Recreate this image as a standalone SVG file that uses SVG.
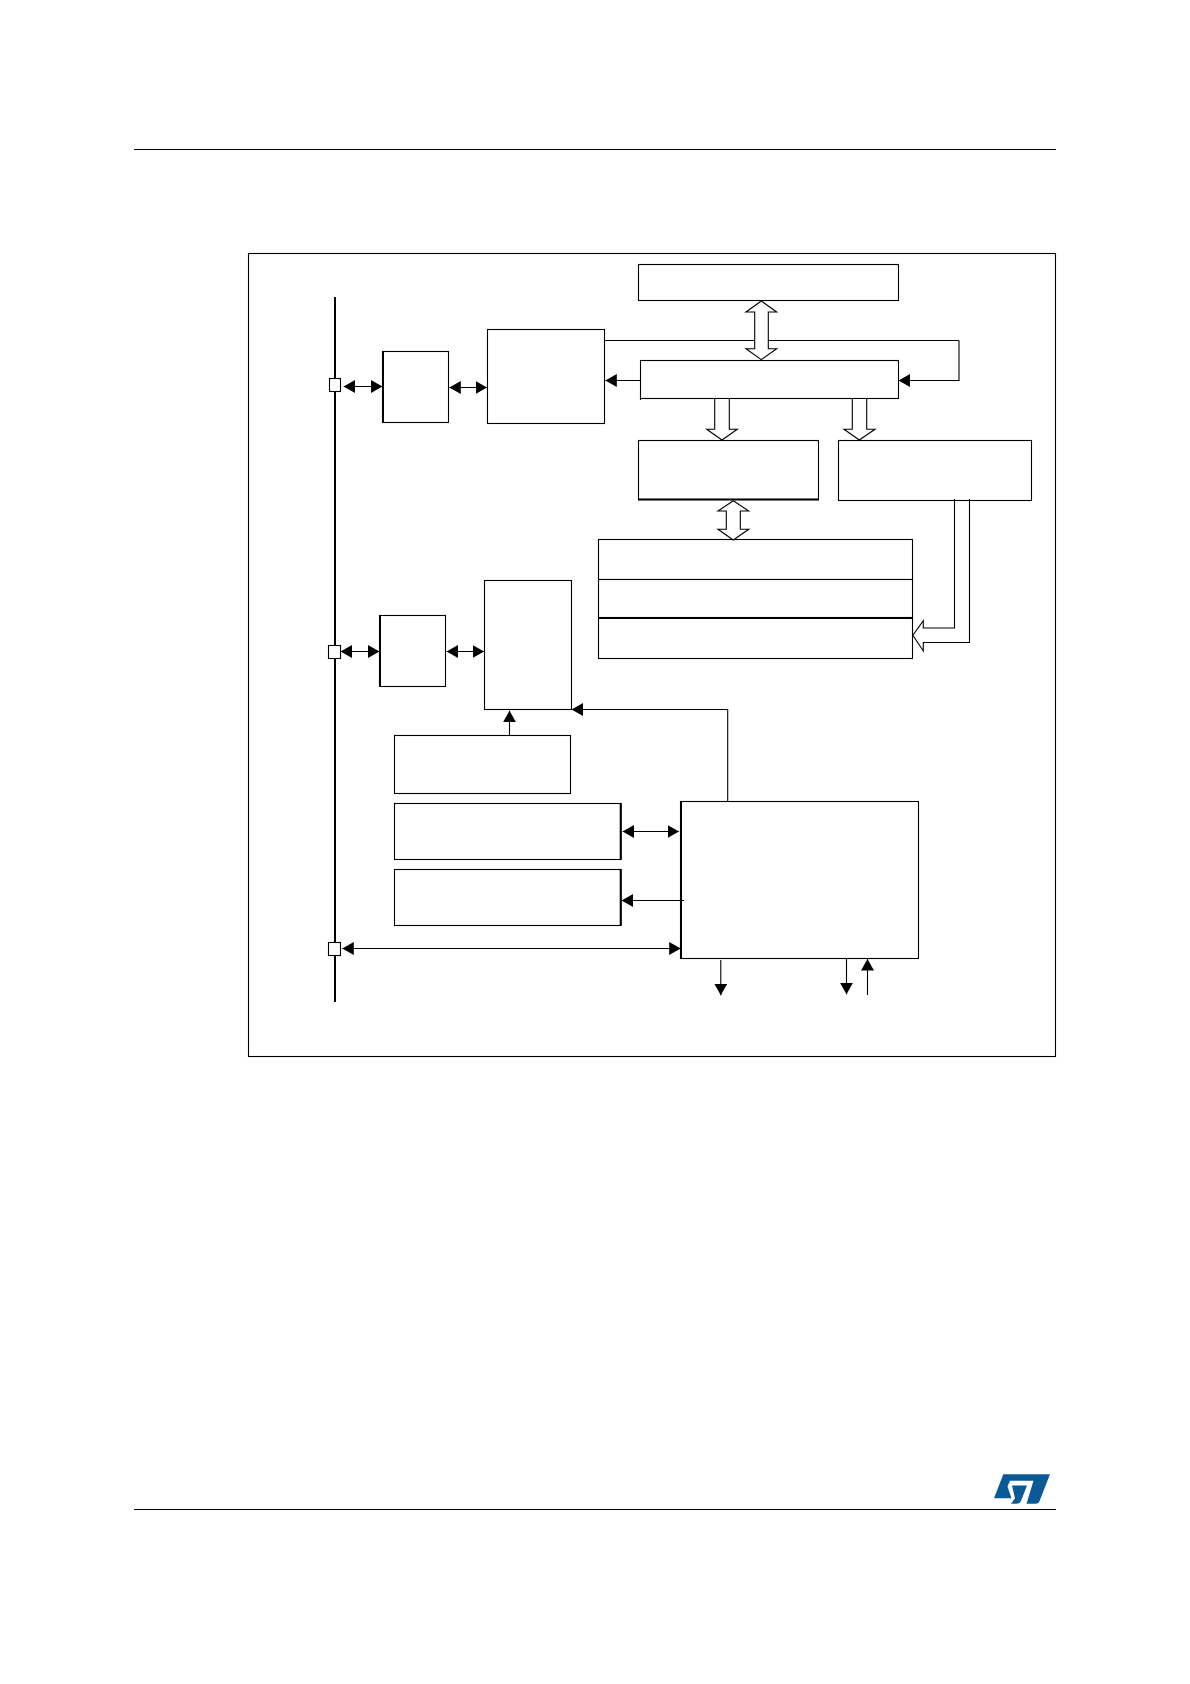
<svg xmlns="http://www.w3.org/2000/svg" width="1190" height="1684" viewBox="0 0 1190 1684">
<style>
.box{fill:#fff;stroke:#000;stroke-width:1.1}
.edge{fill:none;stroke:#000;stroke-width:1.1}
.thick{fill:none;stroke:#000;stroke-width:2}
.hollow{fill:#fff;stroke:#000;stroke-width:1.1;stroke-linejoin:miter}
.arrow{marker-end:url(#head)}
.both{marker-start:url(#head);marker-end:url(#head)}
</style>
<defs>
<marker id="head" viewBox="0 0 11.5 13" refX="11.5" refY="6.5" markerWidth="11.5" markerHeight="13" markerUnits="userSpaceOnUse" orient="auto-start-reverse">
<path d="M0,0L11.5,6.5L0,13Z" fill="#000"/>
</marker>
</defs>
<rect width="1190" height="1684" fill="#fff"/>
<g id="page">
<line class="edge" x1="134" y1="149.5" x2="1056" y2="149.5"/>
<line class="edge" x1="134" y1="1509.5" x2="1056" y2="1509.5"/>
<path id="st-logo" fill="#0a5b95" d="M1003.3,1474.3H1050L1039.3,1501.7Q1038.3,1503.7 1035.7,1503.7H1026.5L1033.5,1480.7H1010L1007.5,1486.5L1011.5,1498.3H994Z M1012,1485.5H1027L1021,1501Q1020,1503.7 1017,1503.7H1011L1015,1498.3Z"/>
<rect class="edge" x="248.5" y="253.5" width="807" height="803"/>
</g>
<g id="bus">
<line x1="335" y1="297" x2="335" y2="1002" stroke="#000" stroke-width="2"/>
</g>
<g id="node-d"><rect class="box" x="638.5" y="264.5" width="260" height="36"/></g>
<g id="node-a"><rect class="box" x="382.5" y="351.5" width="66" height="71"/><line class="thick" x1="383" y1="351" x2="383" y2="423"/></g>
<g id="node-b"><rect class="box" x="487.5" y="329.5" width="117" height="94"/></g>
<g id="node-c"><rect class="box" x="640.5" y="360.5" width="258" height="38"/><line class="edge" x1="640.5" y1="398" x2="640.5" y2="400"/></g>
<g id="node-e"><rect class="box" x="638.5" y="440.5" width="180" height="59"/><line class="thick" x1="638" y1="499.5" x2="819" y2="499.5"/></g>
<g id="node-f"><rect class="box" x="838.5" y="440.5" width="193" height="60"/></g>
<g id="node-g1"><rect class="box" x="598.5" y="539.5" width="314" height="40"/></g>
<g id="node-g2"><rect class="box" x="598.5" y="579.5" width="314" height="38"/></g>
<g id="node-g3"><rect class="box" x="598.5" y="618" width="314" height="40.5"/><line class="thick" x1="598" y1="618" x2="913" y2="618"/></g>
<g id="node-h"><rect class="box" x="379.5" y="615.5" width="66" height="71"/><line class="thick" x1="380" y1="615" x2="380" y2="687"/></g>
<g id="node-i"><rect class="box" x="484.5" y="580.5" width="87" height="129"/></g>
<g id="node-j"><rect class="box" x="394.5" y="735.5" width="176" height="58"/></g>
<g id="node-k"><rect class="box" x="394.5" y="803.5" width="226.5" height="56"/><line class="thick" x1="620.7" y1="803" x2="620.7" y2="860"/></g>
<g id="node-l"><rect class="box" x="394.5" y="869.5" width="226.5" height="56"/><line class="thick" x1="620.7" y1="869" x2="620.7" y2="926"/></g>
<g id="node-m"><rect class="box" x="680.5" y="801.5" width="238" height="157"/><line class="thick" x1="681" y1="801" x2="681" y2="959"/></g>
<g id="port-1"><rect class="box" x="329.5" y="378.5" width="11" height="13"/></g>
<g id="port-2"><rect class="box" x="328.5" y="645.5" width="12" height="13"/></g>
<g id="port-3"><rect class="box" x="328.5" y="942.5" width="12" height="13"/></g>
<g id="connectors">
<line class="edge both" x1="343.7" y1="386.5" x2="382.3" y2="386.5"/>
<line class="edge both" x1="449.3" y1="387.5" x2="487" y2="387.5"/>
<line class="edge" x1="605" y1="340.5" x2="959" y2="340.5"/>
<path class="edge arrow" d="M959,340.5V380.5H898.7"/>
<line class="edge arrow" x1="640.5" y1="380.5" x2="605.3" y2="380.5"/>
<polygon class="hollow" points="761.3,301 776.7,312 768.3,312 768.3,348.7 776.7,348.7 761.3,359.6 746,348.7 754.7,348.7 754.7,312 746,312"/>
<polygon class="hollow" points="714.7,398.5 714.7,429.3 706.7,429.3 722,440 737.3,429.3 729.3,429.3 729.3,398.5"/>
<polygon class="hollow" points="852.3,398.5 852.3,429.3 844,429.3 859.3,440 875,429.3 866.7,429.3 866.7,398.5"/>
<polygon class="hollow" points="733.3,500.7 748.7,511 740.3,511 740.3,529.3 748.7,529.3 733.3,540 718,529.3 726.3,529.3 726.3,511 718,511"/>
<path class="edge" d="M954.5,499V628H923.3V620.7L912.9,635.3L923.3,651V642.5H969.5V499"/>
<line class="edge both" x1="340.7" y1="651.5" x2="379.3" y2="651.5"/>
<line class="edge both" x1="446.7" y1="651.5" x2="484" y2="651.5"/>
<path class="edge arrow" d="M727.7,801.5V709.5H571.7"/>
<line class="edge arrow" x1="509.5" y1="735.5" x2="509.5" y2="710.7"/>
<line class="edge both" x1="622.7" y1="831.5" x2="679" y2="831.5"/>
<line class="edge arrow" x1="684" y1="900.5" x2="621.7" y2="900.5"/>
<line class="edge both" x1="342.3" y1="948.5" x2="680.7" y2="948.5"/>
<line class="edge arrow" x1="720.8" y1="960" x2="720.8" y2="995.3"/>
<line class="edge arrow" x1="846.5" y1="958.7" x2="846.5" y2="994.3"/>
<line class="edge arrow" x1="867.5" y1="995" x2="867.5" y2="959"/>
</g>
</svg>
